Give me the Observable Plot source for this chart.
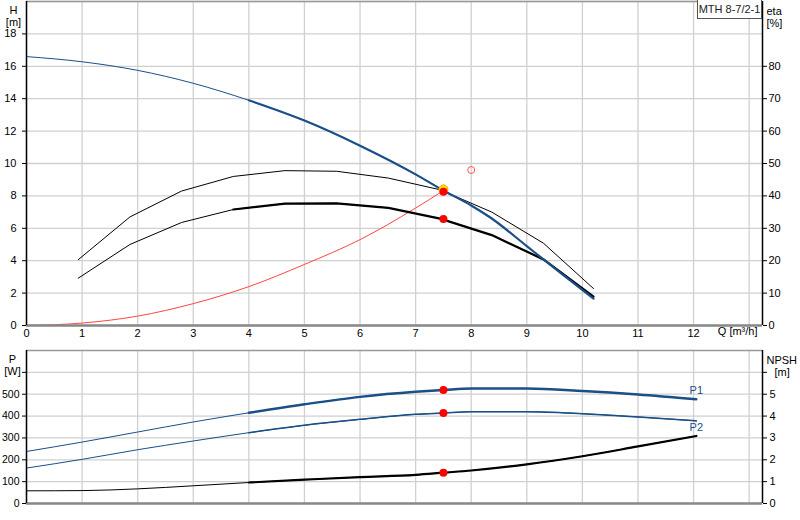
<!DOCTYPE html>
<html>
<head>
<meta charset="utf-8">
<script src="https://cdn.jsdelivr.net/npm/d3@7"></script>
<script src="https://cdn.jsdelivr.net/npm/@observablehq/plot@0.6"></script>
<style>
  html, body { margin: 0; padding: 0; background: #fff; }
  #wrap { position: relative; width: 800px; height: 520px; font-family: "Liberation Sans", Arial, sans-serif; }
  #wrap svg { display: block; }
  #legend { position: absolute; left: 697px; top: 0px; width: 63px; height: 18px; border: 1px solid #555; border-top: none;
            background: #fff; font-size: 11px; line-height: 18px; text-align: center; color: #222; }
</style>
</head>
<body>
<div id="wrap">
  <div id="topPanel"></div>
  <div id="bottomPanel"></div>
  <div id="legend">MTH 8-7/2-1</div>
</div>
<script>
// ---------- data ----------
const pumpName = "MTH 8-7/2-1";
const xTicks = [0,1,2,3,4,5,6,7,8,9,10,11,12];
const xGrid = [0,1,2,3,4,5,6,7,8,9,10,11,12,13];
const hTicks = [0,2,4,6,8,10,12,14,16,18];
const hGrid = [0,2,4,6,8,10,12,14,16,18,20];
const etaTicks = [0,10,20,30,40,50,60,70,80];
const pTicks = [0,100,200,300,400,500,600];
const npshTicks = [0,1,2,3,4,5,6];

// head curve H [m]
const qHead = [0,1,2,3,4,5,6,7,7.5,8,8.35,9,9.3,9.6,10.2];
const head  = [16.6,16.28,15.75,14.95,13.9,12.65,11.1,9.33,8.33,7.41,6.65,4.9,4.08,3.27,1.66];

// efficiency curves eta [%]
const qEta     = [0.93,1.86,2.79,3.72,4.65,5.58,6.51,7.44,8.37,9.3,10.2];
const etaUpper = [20.3,33.5,41.5,46.0,47.8,47.6,45.5,41.9,35.0,25.4,11.4];
const etaLower = [14.6,25.0,31.8,35.8,37.6,37.7,36.3,33.0,27.9,20.4,8.9];

// system curve H [m]
const qSys = [0,1,2,3,4,5,6,7,7.5];
const hSys = [0,0.15,0.58,1.35,2.4,3.77,5.3,7.25,8.33];

// duty point
const dutyQ = 7.5;
const dutyH = 8.4;
const dutyHRed = 8.25;
const dutyEta = 32.9;
const reqQ = 8.0;
const reqH = 9.6;

// power P [W] and NPSH [m]
const qPow = [0,1,2,3,4,5,6,7,7.5,8,9,10,11,12.05];
const p1   = [238,281,327,373,415,454,488,511,519,526,526,515,499,477];
const p2   = [162,202,246,286,324,358,385,408,414,420,420,411,396,378];
const npsh = [0.58,0.59,0.67,0.81,0.96,1.09,1.21,1.31,1.41,1.51,1.79,2.16,2.61,3.09];
const dutyP1 = 519, dutyP2 = 414, dutyNpsh = 1.41;

// ---------- tables ----------
const headRows = qHead.map((q,i) => ({q, h: head[i]}));
const etaRows  = qEta.map((q,i) => ({q, up: etaUpper[i]/5, lo: etaLower[i]/5}));
const sysRows  = qSys.map((q,i) => ({q, h: hSys[i]}));
const powRows  = qPow.map((q,i) => ({q, p1: p1[i], p2: p2[i], n: npsh[i]*100}));

const BLUE = "#1a4f88";
const GRID = "#d0d0d0";
const font = {fontFamily: "'Liberation Sans', Arial, sans-serif", fontSize: "11px", color: "#000", background: "#fff", overflow: "visible"};
const xDom = [0, 13.24];

const topChart = Plot.plot({
  width: 800, height: 345,
  marginTop: 1, marginLeft: 26, marginRight: 38, marginBottom: 20,
  style: font,
  x: {domain: xDom},
  y: {domain: [0, 20]},
  marks: [
    Plot.gridX(xGrid, {stroke: GRID, strokeOpacity: 1, strokeWidth: 1.3}),
    Plot.gridY(hGrid, {stroke: GRID, strokeOpacity: 1, strokeWidth: 1.3}),
    Plot.ruleY([20], {stroke: "#999", strokeWidth: 1.5}),
    Plot.axisX(xTicks, {tickSize: 0, tickPadding: 4, label: null}),
    Plot.axisY(hTicks, {anchor: "left", tickSize: 4, tickPadding: 6, label: null}),
    Plot.axisY(etaTicks.map(e => e/5), {anchor: "right", tickSize: 4, tickPadding: 2, tickFormat: d => d*5, label: null}),
    Plot.line(sysRows, {x: "q", y: "h", stroke: "#ff4444", strokeWidth: 1, curve: "monotone-x"}),
    Plot.line(etaRows, {x: "q", y: "up", stroke: "#000", strokeWidth: 1}),
    Plot.line(etaRows, {x: "q", y: "lo", stroke: "#000", strokeWidth: 1}),
    Plot.line(etaRows.filter(d => d.q >= 3.72), {x: "q", y: "lo", stroke: "#000", strokeWidth: 2.2}),
    Plot.line(headRows, {x: "q", y: "h", stroke: BLUE, strokeWidth: 1, curve: "monotone-x"}),
    Plot.line(headRows.filter(d => d.q >= 4), {x: "q", y: "h", stroke: BLUE, strokeWidth: 2.2, curve: "monotone-x"}),
    Plot.ruleY([0], {stroke: "#888", strokeWidth: 2.5}),
    Plot.ruleX([0], {stroke: "#000", strokeWidth: 1.5}),
    Plot.ruleX([xDom[1]], {stroke: "#000", strokeWidth: 1.5}),
    Plot.dot([{q: reqQ, h: reqH}], {x: "q", y: "h", r: 3.5, stroke: "#ff5555", fill: "none", strokeWidth: 1}),
    Plot.dot([{q: dutyQ, h: dutyH}], {x: "q", y: "h", r: 4.5, fill: "#ffe600", stroke: "#ffa000", strokeWidth: 1}),
    Plot.dot([{q: dutyQ, h: dutyHRed}], {x: "q", y: "h", r: 4, fill: "#ff0000"}),
    Plot.dot([{q: dutyQ, h: dutyEta/5}], {x: "q", y: "h", r: 4, fill: "#ff0000"}),
    Plot.text(["H"], {frameAnchor: "top-left", dx: -13, dy: 5, textAnchor: "middle"}),
    Plot.text(["[m]"], {frameAnchor: "top-left", dx: -13, dy: 17, textAnchor: "middle"}),
    Plot.text(["eta"], {frameAnchor: "top-right", dx: 4, dy: 6, textAnchor: "start"}),
    Plot.text(["[%]"], {frameAnchor: "top-right", dx: 4, dy: 18, textAnchor: "start"}),
    Plot.text(["Q [m³/h]"], {frameAnchor: "bottom-right", dx: -5, dy: 9, textAnchor: "end"})
  ]
});
document.getElementById("topPanel").appendChild(topChart);

const bottomChart = Plot.plot({
  width: 800, height: 175,
  marginTop: 5, marginLeft: 26, marginRight: 38, marginBottom: 17,
  style: font,
  x: {domain: xDom, axis: null},
  y: {domain: [0, 700]},
  marks: [
    Plot.gridX(xGrid, {stroke: GRID, strokeOpacity: 1, strokeWidth: 1.3}),
    Plot.gridY(pTicks, {stroke: GRID, strokeOpacity: 1, strokeWidth: 1.3}),
    Plot.ruleY([700], {stroke: "#999", strokeWidth: 1.5}),
    Plot.axisY(pTicks, {anchor: "left", tickSize: 4, tickPadding: 3, fontSize: 10.5, tickFormat: d => d >= 600 ? "" : d, label: null}),
    Plot.axisY(npshTicks.map(n => n*100), {anchor: "right", tickSize: 4, tickPadding: 3, tickFormat: d => d >= 600 ? "" : d/100, label: null}),
    Plot.line(powRows, {x: "q", y: "n", stroke: "#000", strokeWidth: 1, curve: "monotone-x"}),
    Plot.line(powRows.filter(d => d.q >= 4), {x: "q", y: "n", stroke: "#000", strokeWidth: 2.2, curve: "monotone-x"}),
    Plot.line(powRows, {x: "q", y: "p2", stroke: BLUE, strokeWidth: 1, curve: "monotone-x"}),
    Plot.line(powRows.filter(d => d.q >= 4), {x: "q", y: "p2", stroke: BLUE, strokeWidth: 1.5, curve: "monotone-x"}),
    Plot.line(powRows, {x: "q", y: "p1", stroke: BLUE, strokeWidth: 1, curve: "monotone-x"}),
    Plot.line(powRows.filter(d => d.q >= 4), {x: "q", y: "p1", stroke: BLUE, strokeWidth: 2.4, curve: "monotone-x"}),
    Plot.ruleY([0], {stroke: "#888", strokeWidth: 2.5}),
    Plot.ruleX([0], {stroke: "#000", strokeWidth: 1.5}),
    Plot.ruleX([xDom[1]], {stroke: "#000", strokeWidth: 1.5}),
    Plot.dot([dutyP1, dutyP2, dutyNpsh*100], {x: () => dutyQ, y: d => d, r: 4, fill: "#ff0000"}),
    Plot.text([powRows[powRows.length-1]], {x: "q", y: "p1", text: () => "P1", dy: -9, fill: BLUE}),
    Plot.text([powRows[powRows.length-1]], {x: "q", y: "p2", text: () => "P2", dy: 7, fill: BLUE}),
    Plot.text(["P"], {frameAnchor: "top-left", dx: -14, dy: 5, textAnchor: "middle"}),
    Plot.text(["[W]"], {frameAnchor: "top-left", dx: -14, dy: 17, textAnchor: "middle"}),
    Plot.text(["NPSH"], {frameAnchor: "top-right", dx: 4, dy: 6, textAnchor: "start"}),
    Plot.text(["[m]"], {frameAnchor: "top-right", dx: 12, dy: 18, textAnchor: "start"})
  ]
});
document.getElementById("bottomPanel").appendChild(bottomChart);
</script>
</body>
</html>
